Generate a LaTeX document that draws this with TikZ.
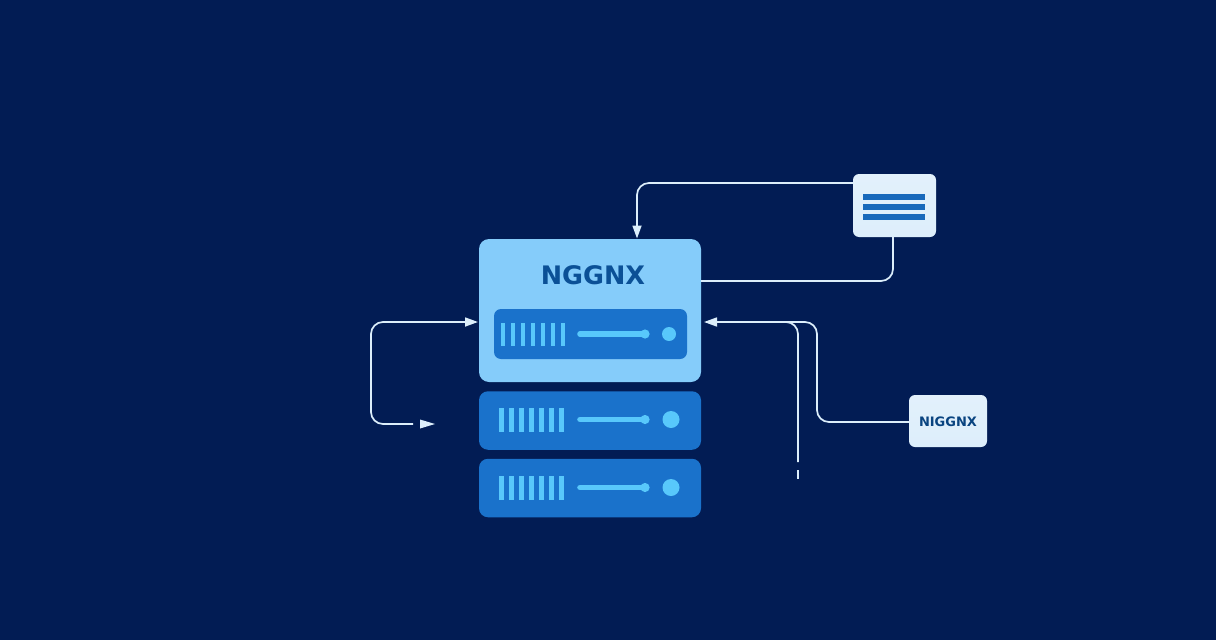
\documentclass[tikz,border=0pt]{standalone}
\usepackage{fontspec}
\setmainfont{DejaVu Sans}
\usetikzlibrary{arrows.meta,calc}
\definecolor{bgnavy}{HTML}{021C54}
\definecolor{skybox}{HTML}{85CCFA}
\definecolor{rackblue}{HTML}{1A72CB}
\definecolor{ledblue}{HTML}{58C8FB}
\definecolor{titleblue}{HTML}{0B5096}
\definecolor{wirewhite}{HTML}{DCEEFB}
\definecolor{palebox}{HTML}{DDEEFB}
\tikzset{
  x=1pt,y=-1pt,
  mainbox/.style={draw=none,fill=skybox,rounded corners=10pt,minimum width=222pt,minimum height=143pt,inner sep=0pt},
  rackbox/.style={draw=none,fill=rackblue,rounded corners=9pt,minimum width=222pt,minimum height=58.5pt,inner sep=0pt},
  innerrack/.style={draw=none,fill=rackblue,rounded corners=7pt,minimum width=193pt,minimum height=50pt,inner sep=0pt},
  palecard/.style={draw=none,top color=palebox!85!white,bottom color=palebox,rounded corners=6pt,inner sep=0pt},
  wire/.style={draw=wirewhite,line width=1.7pt,rounded corners=12pt},
  wirehead/.style={-{Triangle[length=13pt,width=9pt,fill=wirewhite]}},
  ledbar/.style={draw=ledblue,line width=4.8pt},
  ledline/.style={draw=ledblue,line width=5.6pt,line cap=round},
  menubar/.style={draw=rackblue!92!black,line width=5.4pt},
}
\newcommand{\rackparts}[6]{%
  \foreach \k in {0,...,6} {\draw[ledbar] ({#1+10*\k},#2) -- ({#1+10*\k},#3);}
  \draw[ledline] (580,#4) -- (646,#4);
  \fill[ledblue] (645,#4) circle[radius=4.6];
  \fill[ledblue] (#5,#4) circle[radius=#6];
}
\begin{document}
\begin{tikzpicture}
\useasboundingbox (0,0) rectangle (1216,640);
\fill[bgnavy] (0,0) rectangle (1216,640);

\node[mainbox] (main) at (590,310.5) {};
\node[font=\bfseries\fontsize{25.5}{25.5}\selectfont,text=titleblue] (title) at (593,275.5) {NGGNX};
\node[innerrack] (rack0) at (590.5,334) {};
\node[rackbox] (rack1) at (590,420.5) {};
\node[rackbox] (rack2) at (590,488) {};
\node[palecard,minimum width=83pt,minimum height=63pt] (cfg) at (894.5,205.5) {};
\node[palecard,minimum width=78pt,minimum height=52pt] (peer) at (948,421) {};
\node[font=\bfseries\fontsize{13}{13}\selectfont,text=titleblue!85!black] (peerlabel) at (948,421.5) {NIGGNX};

\rackparts{503}{323}{346}{334}{669}{7}
\rackparts{501.5}{408}{432}{419.5}{671}{8.5}
\rackparts{501.5}{476}{500}{487.5}{671}{8.5}

\draw[menubar] (863,197) -- (925,197);
\draw[menubar] (863,207) -- (925,207);
\draw[menubar] (863,217) -- (925,217);

\coordinate (topin) at (637,238.5);
\coordinate (cfgout) at (853,183);
\draw[wire,wirehead] (cfgout) -- (637,183) -- (topin);
\coordinate (cfgdown) at (893,237);
\coordinate (mainright) at (701,281);
\draw[wire] (cfgdown) -- (893,281) -- (mainright);
\coordinate (rightin) at (704,322);
\coordinate (peerout) at (909,422);
\draw[wire,wirehead] (peerout) -- (817,422) -- (817,322) -- (rightin);
\coordinate (riserend) at (798,462);
\draw[wire] (riserend) -- (798,322) -- (780,322);
\coordinate (dashtop) at (798,470);
\coordinate (dashbot) at (798,479);
\draw[draw=wirewhite,line width=1.7pt] (dashtop) -- (dashbot);
\coordinate (leftin) at (478,322);
\coordinate (loopend) at (413,424);
\draw[wire,wirehead] (loopend) -- (371,424) -- (371,322) -- (leftin);
\coordinate (loosea) at (420,419.5);
\coordinate (looseb) at (435,424);
\coordinate (loosec) at (420,428.5);
\fill[wirewhite] (loosea) -- (looseb) -- (loosec) -- cycle;
\end{tikzpicture}
\end{document}
